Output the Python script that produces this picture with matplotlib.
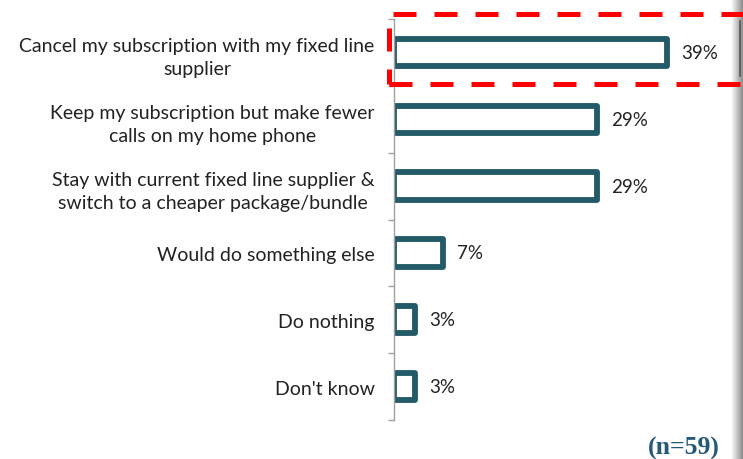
import matplotlib
matplotlib.use("Agg")
import matplotlib.pyplot as plt
from matplotlib.patches import Rectangle
import numpy as np

categories = [
    "Cancel my subscription with my fixed line\nsupplier",
    "Keep my subscription but make fewer\ncalls on my home phone",
    "Stay with current fixed line supplier &\nswitch to a cheaper package/bundle",
    "Would do something else",
    "Do nothing",
    "Don't know",
]
values = [39, 29, 29, 7, 3, 3]
note = "(n=59)"

bar_color = "#235a68"
W, H = 743, 460
fig = plt.figure(figsize=(W / 100, H / 100), dpi=100)
ax = fig.add_axes([394 / W, 1 - 421 / H, (W - 394) / W, (421 - 20) / H])

y = np.arange(len(categories))
bars = ax.barh(y, values, height=0.41, color="white", edgecolor=bar_color, linewidth=4.2)
for b in bars:
    b.set_joinstyle("round")
for yi, v in zip(y, values):
    ax.text(v + 2.0, yi, f"{v}%", va="center", ha="left", fontsize=13.5,
            family="Lato", color="#222222")

ax.set_xlim(0, (W - 394) / 7.0)
ax.set_ylim(len(categories) - 0.5, -0.5)
ax.set_yticks(y)
ax.set_yticklabels(categories, fontsize=14, family="Lato", color="#222222",
                   multialignment="center", linespacing=1.45)
ax.tick_params(axis="y", which="major", length=0, pad=14)
ax.set_yticks(np.arange(len(categories) + 1) - 0.5, minor=True)
ax.tick_params(axis="y", which="minor", length=4, color="#a0a0a0", width=1)
ax.set_xticks([])
for s in ["top", "right", "bottom"]:
    ax.spines[s].set_visible(False)
ax.spines["left"].set_color("#a0a0a0")
ax.spines["left"].set_linewidth(1)

# red dashed highlight box
rect = Rectangle((389 / W, 1 - 85 / H), (W + 10 - 389) / W, 70 / H,
                 transform=fig.transFigure, fill=False, edgecolor="#ff0000",
                 linewidth=3.6, linestyle=(0, (4.6, 3.6)), clip_on=False)
fig.add_artist(rect)

# right edge shadow
grad = np.linspace(1.0, 0.55, 64).reshape(1, -1)
sh = fig.add_axes([731 / W, 0, 12 / W, 1])
sh.imshow(grad, aspect="auto", cmap="gray", vmin=0, vmax=1, extent=[0, 1, 0, 1])
sh.axis("off")
fig.add_artist(plt.Line2D([739.5 / W, 739.5 / W], [1 - 22 / H, 1 - 77 / H],
                          transform=fig.transFigure, color="#555555", lw=1.2))

fig.text(720 / W, 1 - 455 / H, note, ha="right", va="baseline", fontsize=18.5,
         family="Liberation Serif", fontweight="bold", color="#245a78")

fig.savefig("out.png", dpi=100)
